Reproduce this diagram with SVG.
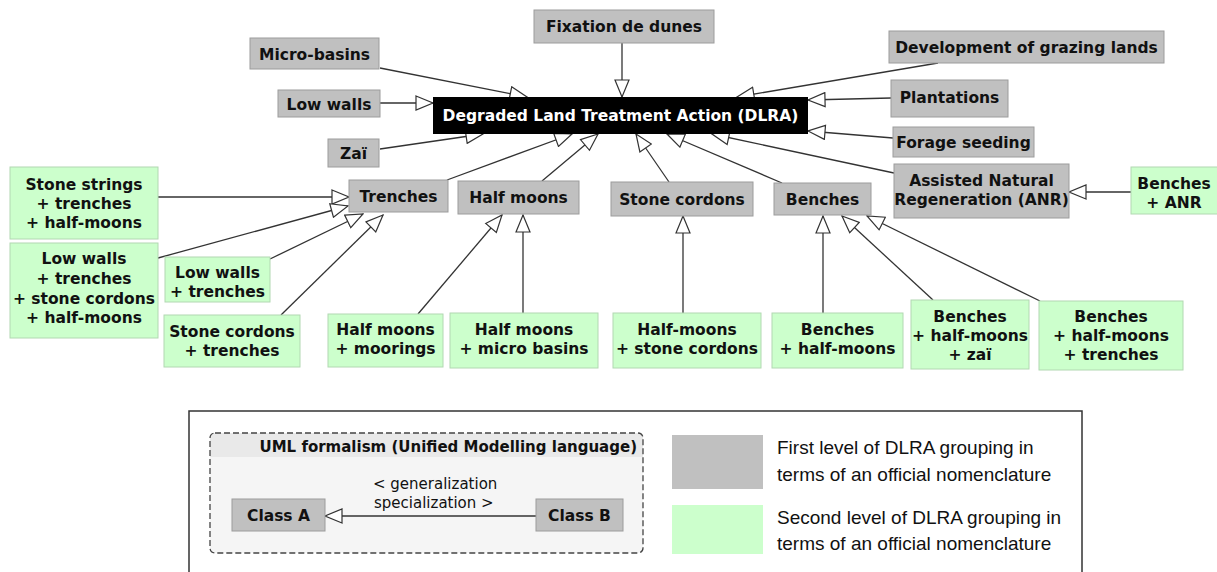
<svg xmlns="http://www.w3.org/2000/svg" width="1217" height="572" viewBox="0 0 1217 572">
<style>
.g rect{fill:#c0c0c0;stroke:#9c9c9c;stroke-width:1}
.s rect{fill:#ccffcc;stroke:#b2d8b2;stroke-width:1}
.n text{font-family:"DejaVu Sans",sans-serif;font-weight:bold;font-size:15.5px;fill:#111;text-anchor:middle}
#dlra text{fill:#fff}
.c line{stroke:#333;stroke-width:1.3;marker-end:url(#gen)}
.lt{font-family:"Liberation Sans",sans-serif;font-size:19px;fill:#111}
.ut{font-family:"DejaVu Sans",sans-serif;font-size:15px;fill:#111}
</style>
<defs>
<marker id="gen" viewBox="0 0 19 16" refX="18" refY="8" markerWidth="19" markerHeight="16" markerUnits="userSpaceOnUse" orient="auto">
<path d="M1,1 L18,8 L1,15 Z" fill="#fff" stroke="#333" stroke-width="1.2"/>
</marker>
</defs>
<rect width="1217" height="572" fill="#fff"/>

<g id="legend">
<rect x="189" y="411" width="893" height="175" fill="none" stroke="#333" stroke-width="1.5"/>
<rect x="210" y="433" width="433" height="120" rx="5" fill="#f5f5f5"/>
<path d="M210,457 V438 a5,5 0 0 1 5,-5 H638 a5,5 0 0 1 5,5 V457 Z" fill="#e9e9e9"/>
<rect x="210" y="433" width="433" height="120" rx="5" fill="none" stroke="#444" stroke-width="1.3" stroke-dasharray="6,3"/>
<text x="637" y="452" class="ut" font-weight="bold" font-size="14.5" text-anchor="end">UML formalism (Unified Modelling language)</text>
<text x="373" y="489" class="ut">&lt; generalization</text>
<text x="374" y="508" class="ut">specialization &gt;</text>
<rect x="672" y="435" width="91" height="54" fill="#c0c0c0"/>
<rect x="672" y="505" width="91" height="49" fill="#ccffcc"/>
<text x="777" y="454" class="lt">First level of DLRA grouping in</text>
<text x="777" y="481" class="lt">terms of an official nomenclature</text>
<text x="777" y="524" class="lt">Second level of DLRA grouping in</text>
<text x="777" y="550" class="lt">terms of an official nomenclature</text>
</g>

<g id="connectors" class="c">
<line x1="380" y1="68" x2="527" y2="97"/>
<line x1="380" y1="103" x2="433" y2="103"/>
<line x1="380" y1="149" x2="483" y2="134"/>
<line x1="622" y1="43" x2="622" y2="97"/>
<line x1="938" y1="63" x2="737" y2="97"/>
<line x1="891" y1="98" x2="808" y2="100"/>
<line x1="893" y1="138" x2="808" y2="131"/>
<line x1="894" y1="173" x2="712" y2="134"/>
<line x1="782" y1="183" x2="667" y2="134"/>
<line x1="669" y1="182" x2="636" y2="134"/>
<line x1="542" y1="181" x2="598" y2="134"/>
<line x1="447" y1="180" x2="572" y2="134"/>
<line x1="158" y1="197" x2="349" y2="197"/>
<line x1="158" y1="258" x2="348" y2="206"/>
<line x1="270" y1="259" x2="363" y2="214"/>
<line x1="281" y1="315" x2="383" y2="215"/>
<line x1="418" y1="314" x2="502" y2="215"/>
<line x1="523" y1="313" x2="523" y2="215"/>
<line x1="683" y1="313" x2="683" y2="216"/>
<line x1="823" y1="313" x2="823" y2="216"/>
<line x1="933" y1="300" x2="842" y2="216"/>
<line x1="1040" y1="301" x2="867" y2="216"/>
<line x1="1131" y1="192" x2="1069" y2="192"/>
<line x1="536" y1="516" x2="325" y2="516"/>
</g>

<g id="dlra" class="n"><rect x="433" y="97" width="375" height="37" fill="#000"/><text x="620.5" y="121">Degraded Land Treatment Action (DLRA)</text></g>
<g id="micro-basins" class="n g"><rect x="250" y="38" width="129" height="31"/><text x="314.5" y="59.5">Micro-basins</text></g>
<g id="low-walls" class="n g"><rect x="278" y="90" width="102" height="27"/><text x="329" y="110">Low walls</text></g>
<g id="zai" class="n g"><rect x="328" y="139" width="51" height="28"/><text x="353.5" y="159">Zaï</text></g>
<g id="fixation" class="n g"><rect x="534" y="10" width="180" height="33"/><text x="624" y="32">Fixation de dunes</text></g>
<g id="development" class="n g"><rect x="889" y="31" width="275" height="32"/><text x="1026.5" y="52.5">Development of grazing lands</text></g>
<g id="plantations" class="n g"><rect x="891" y="80" width="117" height="37"/><text x="949.5" y="103">Plantations</text></g>
<g id="forage" class="n g"><rect x="893" y="127" width="141" height="30"/><text x="963.5" y="148">Forage seeding</text></g>
<g id="anr" class="n g"><rect x="894" y="164" width="175" height="54"/><text x="981.5" y="186">Assisted Natural</text><text x="981.5" y="205">Regeneration (ANR)</text></g>
<g id="trenches" class="n g"><rect x="349" y="180" width="99" height="32"/><text x="398.5" y="202">Trenches</text></g>
<g id="half-moons" class="n g"><rect x="458" y="181" width="121" height="33"/><text x="518.5" y="203">Half moons</text></g>
<g id="stone-cordons" class="n g"><rect x="611" y="182" width="142" height="34"/><text x="682" y="205">Stone cordons</text></g>
<g id="benches" class="n g"><rect x="774" y="183" width="97" height="32"/><text x="822.5" y="205">Benches</text></g>

<g id="stone-strings" class="n s"><rect x="10" y="167" width="148" height="72"/><text x="84" y="190">Stone strings</text><text x="84" y="209">+ trenches</text><text x="84" y="228">+ half-moons</text></g>
<g id="lowwalls-combo" class="n s"><rect x="10" y="243" width="148" height="95"/><text x="84" y="264">Low walls</text><text x="84" y="284">+ trenches</text><text x="84" y="304">+ stone cordons</text><text x="84" y="323">+ half-moons</text></g>
<g id="lowwalls-trenches" class="n s"><rect x="165" y="257" width="105" height="45"/><text x="217.5" y="278">Low walls</text><text x="217.5" y="297">+ trenches</text></g>
<g id="cordons-trenches" class="n s"><rect x="164" y="315" width="136" height="52"/><text x="232" y="337">Stone cordons</text><text x="232" y="356">+ trenches</text></g>
<g id="hm-moorings" class="n s"><rect x="328" y="314" width="115" height="53"/><text x="385.5" y="335">Half moons</text><text x="385.5" y="354">+ moorings</text></g>
<g id="hm-micro" class="n s"><rect x="450" y="313" width="148" height="55"/><text x="524" y="335">Half moons</text><text x="524" y="354">+ micro basins</text></g>
<g id="hm-cordons" class="n s"><rect x="613" y="313" width="148" height="55"/><text x="687" y="335">Half-moons</text><text x="687" y="354">+ stone cordons</text></g>
<g id="benches-hm" class="n s"><rect x="772" y="313" width="131" height="55"/><text x="837.5" y="335">Benches</text><text x="837.5" y="354">+ half-moons</text></g>
<g id="benches-hm-zai" class="n s"><rect x="911" y="300" width="118" height="69"/><text x="970" y="322">Benches</text><text x="970" y="341">+ half-moons</text><text x="970" y="360">+ zaï</text></g>
<g id="benches-hm-trenches" class="n s"><rect x="1039" y="301" width="144" height="69"/><text x="1111" y="322">Benches</text><text x="1111" y="341">+ half-moons</text><text x="1111" y="360">+ trenches</text></g>
<g id="benches-anr" class="n s"><rect x="1131" y="167" width="90" height="47"/><text x="1174" y="189">Benches</text><text x="1174" y="208">+ ANR</text></g>

<g id="class-a" class="n g"><rect x="232" y="499" width="93" height="32"/><text x="278.5" y="521">Class A</text></g>
<g id="class-b" class="n g"><rect x="536" y="499" width="87" height="32"/><text x="579.5" y="521">Class B</text></g>
</svg>
